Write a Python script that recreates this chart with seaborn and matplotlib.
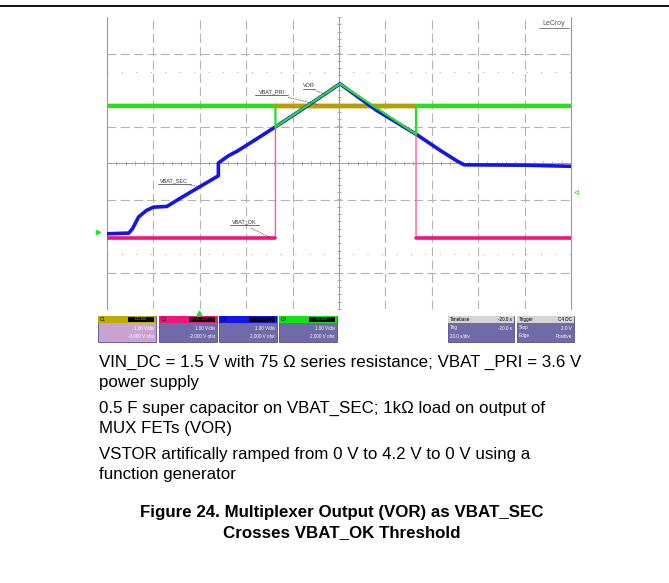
import numpy as np
import pandas as pd
import matplotlib.pyplot as plt
import seaborn as sns
from matplotlib.patches import Rectangle
from matplotlib.lines import Line2D

sns.set_style("white")
plt.rcParams['font.family'] = ['Liberation Sans', 'DejaVu Sans']

# scope traces, in screen divisions (x: 0..10, y: -4..4)
vbat_sec_x = [0, 0.47, 0.55, 0.68, 0.85, 1.0, 1.29, 1.6, 2.0, 2.40, 2.40, 2.62, 2.8, 3.2, 3.63,
              4.3, 5.02, 5.8, 6.66, 7.2, 7.55, 7.7, 9.0, 10]
vbat_sec_y = [-1.94, -1.92, -1.8, -1.48, -1.3, -1.21, -1.19, -0.95, -0.65, -0.35, 0.0, 0.2, 0.32, 0.64, 0.99,
              1.55, 2.17, 1.45, 0.79, 0.33, 0.05, -0.05, -0.06, -0.09]
vor_x = [0, 3.63, 3.63, 5.02, 6.66, 6.66, 10]
vor_y = [1.58, 1.58, 0.99, 2.17, 0.79, 1.58, 1.58]
vbat_ok_x = [0, 3.63, 3.63, 5.02, 6.66, 6.66, 10]
vbat_ok_y = [-2.05, -2.05, 0.99, 2.17, 0.79, -2.05, -2.05]
vbat_pri_x = [0, 10]
vbat_pri_y = [1.55, 1.55]

caption_lines = [
    "VIN_DC = 1.5 V with 75 \u03a9 series resistance; VBAT _PRI = 3.6 V",
    "power supply",
    "0.5 F super capacitor on VBAT_SEC; 1k\u03a9 load on output of",
    "MUX FETs (VOR)",
    "VSTOR artifically ramped from 0 V to 4.2 V to 0 V using a",
    "function generator",
]
title_lines = ["Figure 24. Multiplexer Output (VOR) as VBAT_SEC", "Crosses VBAT_OK Threshold"]

channels = ["C1", "C2", "C3", "C4"]
channel_colors = ["#b9ad00", "#f0147c", "#1414e6", "#18e018"]
channel_text = [["1.00 V/div", "-3.000 V ofst"], ["1.00 V/div", "-2.000 V ofst"],
                ["1.00 V/div", "2.000 V ofst"], ["1.00 V/div", "2.000 V ofst"]]

W, H = 669, 583
fig = plt.figure(figsize=(W / 100, H / 100), dpi=100)

ax = fig.add_axes([107 / W, 1 - 309 / H, 464 / W, 292 / H])
ax.set_xlim(0, 10)
ax.set_ylim(-4, 4)
ax.set_xticks([])
ax.set_yticks([])
for s in ["top", "bottom"]:
    ax.spines[s].set_visible(False)
for s in ["left", "right"]:
    ax.spines[s].set_color("#9a9a9a")
    ax.spines[s].set_linewidth(0.8)

grid_c = "#b4b4b4"
for gx in range(1, 10):
    if gx != 5:
        ax.axvline(gx, color=grid_c, lw=0.8, ls=(0, (8, 4)), zorder=0)
for gy in [-3, -1, 1, 3]:
    ax.axhline(gy, color=grid_c, lw=0.8, ls=(0, (8, 4)), zorder=0)
for gy in [-2.5, 2.5]:
    ax.axhline(gy, color=grid_c, lw=0.8, ls=(0, (1, 12)), zorder=0)
ax.axvline(5, color="#a0a0a0", lw=0.8, zorder=0)
ax.axhline(0, color="#a0a0a0", lw=0.8, zorder=0)
tx = np.arange(0, 10.01, 0.2)
ty = np.arange(-4, 4.01, 0.2)
ax.plot(tx, np.zeros_like(tx), ls="none", marker="|", ms=3, mew=0.6, color="#a0a0a0", zorder=0)
ax.plot(np.full_like(ty, 5), ty, ls="none", marker="_", ms=3, mew=0.6, color="#a0a0a0", zorder=0)

# flat parts first, then the olive VBAT_PRI level, then the ramps
sns.lineplot(x=vor_x[:2], y=vor_y[:2], color="#22e022", lw=2.4, ax=ax, sort=False, estimator=None, zorder=2)
sns.lineplot(x=vor_x[-2:], y=vor_y[-2:], color="#22e022", lw=2.4, ax=ax, sort=False, estimator=None, zorder=2)
sns.lineplot(x=vbat_pri_x, y=vbat_pri_y, color="#b4a000", lw=3.2, ax=ax, sort=False, estimator=None, zorder=1)
ax.plot([3.63, 6.66], [1.55, 1.55], color="#b4a000", lw=3.2, zorder=3)
sns.lineplot(x=vbat_sec_x, y=vbat_sec_y, color="#1515e8", lw=2.6, ax=ax, sort=False, estimator=None, zorder=4)
sns.lineplot(x=vbat_ok_x, y=vbat_ok_y, color="#ff5aa8", lw=1.0, ax=ax, sort=False, estimator=None, zorder=5)
sns.lineplot(x=vbat_ok_x[:2], y=vbat_ok_y[:2], color="#f0147c", lw=2.6, ax=ax, sort=False, estimator=None, zorder=5)
sns.lineplot(x=vbat_ok_x[-2:], y=vbat_ok_y[-2:], color="#f0147c", lw=2.6, ax=ax, sort=False, estimator=None, zorder=5)
sns.lineplot(x=vor_x[1:-1], y=vor_y[1:-1], color="#22e022", lw=1.6, ax=ax, sort=False, estimator=None, zorder=6)

# trace labels with dashed leaders
labels = [("VBAT_PRI", 3.55, 1.88, 3.9, 1.8, 4.55, 1.6),
          ("VOR", 4.35, 2.05, 4.5, 1.98, 4.75, 1.86),
          ("VBAT_SEC", 1.45, -0.55, 1.8, -0.62, 2.05, -0.64),
          ("VBAT_OK", 2.96, -1.68, 3.1, -1.78, 3.5, -2.03)]
for name, lx, ly, ax0, ay0, ax1, ay1 in labels:
    ax.text(lx, ly, name, fontsize=4, ha="center", va="bottom", color="#333333", zorder=7)
    w = 0.09 * len(name)
    ax.plot([lx - w / 2, lx + w / 2], [ly - 0.03, ly - 0.03], color="#333333", lw=0.5, zorder=7)
    ax.plot([ax0, ax1], [ay0, ay1], color="#333333", lw=0.5, ls=(0, (1.5, 1)), zorder=7)

ax.text(9.62, 3.72, "LeCroy", fontsize=5, ha="center", va="bottom", color="#555555")
ax.plot([9.3, 9.95], [3.7, 3.7], color="#555555", lw=0.5)
ax.plot([-0.2], [-1.88], marker=">", color="#22e022", ms=3, clip_on=False)
ax.plot([10.1], [-0.8], marker="<", color="#22e022", ms=3, mfc="none", mew=0.5, clip_on=False)

# overlay in pixel coordinates: border line, status boxes, caption
ov = fig.add_axes([0, 0, 1, 1], zorder=-1)
ov.set_xlim(0, W)
ov.set_ylim(H, 0)
ov.axis("off")
ov.add_line(Line2D([0, W], [6, 6], color="black", lw=1.3))

box_x = [98, 159, 219, 279]
for i, ch in enumerate(channels):
    x0 = box_x[i]
    body = "#c9a2d2" if i == 0 else "#6f6aa8"
    ov.add_patch(Rectangle((x0, 316), 58, 26, facecolor=body, edgecolor="#55508a", lw=0.6))
    ov.add_patch(Rectangle((x0, 316), 58, 7, facecolor=channel_colors[i], edgecolor="none"))
    ov.add_patch(Rectangle((x0 + 30, 317), 26, 5, facecolor="black", edgecolor="none"))
    ov.text(x0 + 2, 319.5, ch, fontsize=3.3, va="center", color="black")
    ov.text(x0 + 43, 319.5, "DC1M", fontsize=3, va="center", ha="center", color=channel_colors[i])
    ov.text(x0 + 56, 328, channel_text[i][0], fontsize=3.3, va="center", ha="right", color="white")
    ov.text(x0 + 56, 336, channel_text[i][1], fontsize=3.3, va="center", ha="right", color="white")
ov.plot([199], [313], marker="^", color="#22e022", ms=3.5)

for x0, w, head, rows, tag in [(448, 66, "Timebase", [("Trig", "-20.0 s"), ("20.0 s/div", "")], "-20.0 s"),
                               (517, 57, "Trigger", [("Stop", "2.0 V"), ("Edge", "Positive")], "C4 DC")]:
    ov.add_patch(Rectangle((x0, 316), w, 26, facecolor="#6f6aa8", edgecolor="#55508a", lw=0.6))
    ov.add_patch(Rectangle((x0, 316), w, 7, facecolor="#d4d4d4", edgecolor="none"))
    ov.text(x0 + 2, 319.5, head, fontsize=3.3, va="center", color="black")
    ov.text(x0 + w - 2, 319.5, tag, fontsize=3.3, va="center", ha="right", color="black")
    for j, (a, b) in enumerate(rows):
        ov.text(x0 + 2, 328 + 8 * j, a, fontsize=3.3, va="center", color="white")
        ov.text(x0 + w - 2, 328 + 8 * j, b, fontsize=3.3, va="center", ha="right", color="white")

cap_y = [362, 383, 408, 429, 454, 475]
for t, y in zip(caption_lines, cap_y):
    ov.text(99, y, t, fontsize=12.2, va="center", ha="left", color="black")
for t, y in zip(title_lines, [512, 533]):
    ov.text(342, y, t, fontsize=12.2, fontweight="bold", va="center", ha="center", color="black")

fig.savefig("out.png", dpi=100)
